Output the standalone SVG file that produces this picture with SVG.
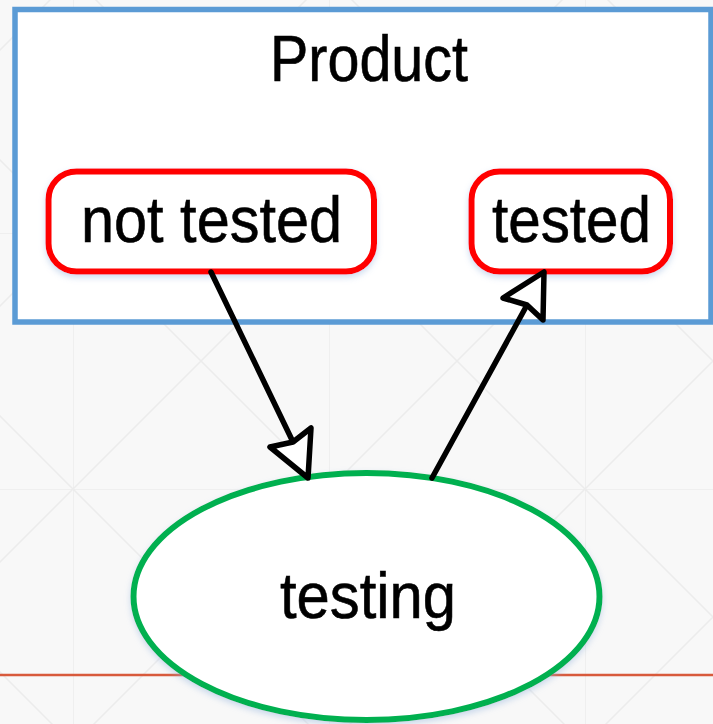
<svg xmlns="http://www.w3.org/2000/svg" width="713" height="724" viewBox="0 0 713 724">
  <defs>
    <!-- faint background grid with diagonals -->
    <pattern id="grid" x="73" y="233" width="256" height="256" patternUnits="userSpaceOnUse">
      <rect width="256" height="256" fill="#f8f8f8"/>
      <path d="M0 0V256M0 0H256M0 0L256 256M256 0L0 256" stroke="#ececec" stroke-width="1.5" fill="none"/>
    </pattern>
    <filter id="glow" x="-10%" y="-10%" width="120%" height="130%">
      <feDropShadow dx="0" dy="3" stdDeviation="3" flood-color="#8fb0dc" flood-opacity="0.45"/>
    </filter>
    <style>
      .lbl { font-family: "Liberation Sans", Arial, sans-serif; font-size: 64px; fill: #000; stroke: #000; stroke-width: 0.6; }
      .state { fill: #fff; stroke: #ff0000; stroke-width: 6; filter: url(#glow); }
      .edge { stroke: #000; stroke-width: 5.5; stroke-linecap: round; fill: none; }
      .head { fill: #fff; stroke: #000; stroke-width: 5.5; stroke-linejoin: round; }
    </style>
  </defs>

  <rect width="713" height="724" fill="url(#grid)"/>
  <line x1="0" y1="675" x2="713" y2="675" stroke="#d85a3c" stroke-width="2.5"/>

  <g id="product">
    <rect x="15" y="9.5" width="696" height="312.5" fill="#fff" stroke="#5b9bd5" stroke-width="5.5"/>
    <text class="lbl" x="270" y="81" textLength="198" lengthAdjust="spacingAndGlyphs">Product</text>
  </g>

  <g id="not-tested">
    <rect class="state" x="48.5" y="171.5" width="325.5" height="100" rx="28"/>
    <text class="lbl" x="81" y="242" textLength="261" lengthAdjust="spacingAndGlyphs">not tested</text>
  </g>

  <g id="tested">
    <rect class="state" x="471.5" y="171.5" width="198.5" height="100" rx="28"/>
    <text class="lbl" x="492" y="242" textLength="159" lengthAdjust="spacingAndGlyphs">tested</text>
  </g>

  <g id="testing">
    <ellipse cx="366.5" cy="596.5" rx="233" ry="123.5" fill="#fff" stroke="#00b050" stroke-width="6" filter="url(#glow)"/>
    <text class="lbl" x="280" y="618" textLength="176" lengthAdjust="spacingAndGlyphs">testing</text>
  </g>

  <g id="connectors">
    <line class="edge" x1="211" y1="272" x2="293" y2="442"/>
    <polygon class="head" points="308,478 270,447 293,442 311,428"/>
    <line class="edge" x1="432" y1="478" x2="527" y2="305"/>
    <polygon class="head" points="544,272 543,320 527,305 503,298"/>
  </g>
</svg>
